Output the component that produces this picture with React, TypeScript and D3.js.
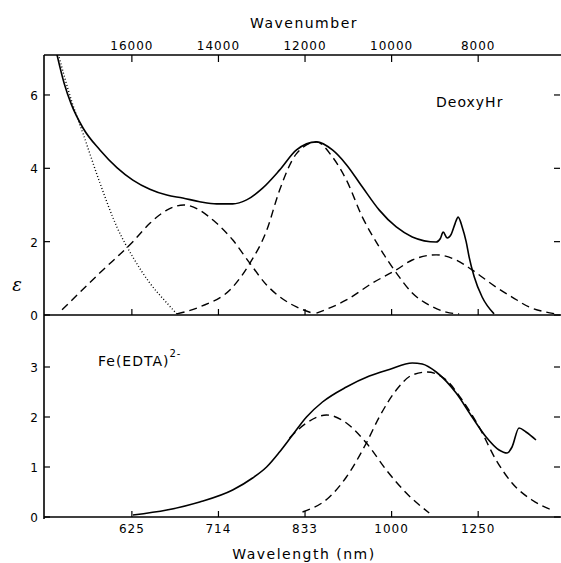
import * as d3 from "d3";

// wavenumber (cm-1) ticks, the matching wavelength labels (nm)
const wnTicks = [16000, 14000, 12000, 10000, 8000];
const nmLabels = ["625", "714", "833", "1000", "1250"];
const topYTicks = [0, 2, 4, 6];
const botYTicks = [0, 1, 2, 3];

// DeoxyHr: [wavenumber, epsilon]
const deoxyObserved: [number, number][] = [
  [17760, 7.25], [17560, 6.3], [17400, 5.75], [17129, 5.1], [16738, 4.5],
  [16346, 4.02], [15977, 3.68], [15585, 3.43], [15193, 3.27], [14824, 3.19],
  [14433, 3.09], [14041, 3.03], [13672, 3.03], [13349, 3.14], [12980, 3.46],
  [12589, 3.95], [12197, 4.5], [11736, 4.72], [11367, 4.5], [11044, 4.1],
  [10675, 3.49], [10284, 2.86], [9892, 2.4], [9523, 2.13], [8970, 1.99],
  [8877, 2.08], [8808, 2.26], [8716, 2.1], [8624, 2.2], [8532, 2.5],
  [8463, 2.67], [8370, 2.4], [8278, 2.0], [8209, 1.58], [8094, 1.05],
  [7909, 0.49], [7633, 0.03],
];
const deoxyTail: [number, number][] = [
  [17720, 7.2], [17383, 5.8], [17129, 4.95], [16738, 3.6], [16346, 2.4],
  [15977, 1.58], [15585, 0.87], [15193, 0.33], [14963, 0.03],
];
const deoxyBandA: [number, number][] = [
  [17613, 0.14], [16738, 1.15], [15977, 2.0], [15585, 2.5], [15193, 2.86],
  [14801, 3.0], [14041, 2.5], [13672, 2.05], [13280, 1.42], [12888, 0.82],
  [12589, 0.5], [12358, 0.32], [12197, 0.22], [11828, 0.05],
];
const deoxyBandB: [number, number][] = [
  [14963, 0.03], [14433, 0.22], [13672, 0.76], [13280, 1.4], [12888, 2.3],
  [12589, 3.4], [12197, 4.4], [11736, 4.72], [11367, 4.31], [11044, 3.68],
  [10675, 2.67], [10284, 1.85], [9892, 1.15], [9523, 0.6], [9131, 0.27],
  [8739, 0.08], [8440, 0.03],
];
const deoxyBandC: [number, number][] = [
  [11736, 0.05], [11044, 0.41], [10445, 0.87], [9892, 1.23], [9523, 1.5],
  [8970, 1.64], [8509, 1.5], [8140, 1.23], [7587, 0.76], [7218, 0.49],
  [6826, 0.22], [6435, 0.08], [6204, 0.03],
];

// Fe(EDTA)2-
const feObserved: [number, number][] = [
  [15977, 0.04], [15193, 0.14], [14433, 0.3], [13672, 0.54], [13211, 0.78],
  [12888, 1.0], [12589, 1.3], [12289, 1.64], [11966, 2.0], [11597, 2.3],
  [11044, 2.6], [10514, 2.82], [10053, 2.95], [9523, 3.08], [9292, 3.06],
  [8970, 2.9], [8509, 2.48], [8140, 2.0], [7817, 1.6], [7518, 1.34],
  [7333, 1.28], [7218, 1.4], [7057, 1.78], [6895, 1.7], [6665, 1.54],
];
const feBandA: [number, number][] = [
  [12358, 1.58], [11966, 1.88], [11505, 2.04], [11044, 1.88], [10583, 1.48],
  [10122, 0.94], [9661, 0.48], [9131, 0.08],
];
const feBandB: [number, number][] = [
  [12058, 0.1], [11436, 0.4], [11044, 0.8], [10583, 1.48], [10284, 2.0],
  [9892, 2.54], [9523, 2.84], [9177, 2.9], [8739, 2.74], [8370, 2.34],
  [7979, 1.8], [7587, 1.14], [7218, 0.68], [6757, 0.34], [6296, 0.14],
];

const W = 561;
const H = 563;
const left = 44;
const right = 560;
const font = "'DejaVu Sans', sans-serif";

export default function App() {
  const x = d3.scaleLinear().domain([18030, 6110]).range([left, right]);
  const yTop = d3.scaleLinear().domain([0, 7.09]).range([315, 55]);
  const yBot = d3.scaleLinear().domain([0, 4.04]).range([517, 315]);

  const topLine = d3
    .line<[number, number]>()
    .x((d) => x(d[0]))
    .y((d) => yTop(d[1]))
    .curve(d3.curveMonotoneX);
  const botLine = d3
    .line<[number, number]>()
    .x((d) => x(d[0]))
    .y((d) => yBot(d[1]))
    .curve(d3.curveMonotoneX);

  const dash = "8,5";

  return (
    <svg
      width={W}
      height={H}
      style={{ position: "absolute", left: 0, top: 0, background: "#fff" }}
      fontFamily={font}
    >
      <defs>
        <clipPath id="topClip">
          <rect x={left} y={yTop(7.09)} width={right - left} height={yTop(0) - yTop(7.09)} />
        </clipPath>
      </defs>

      {/* frame */}
      <g stroke="#000" strokeWidth={1.6} fill="none">
        <line x1={left} x2={right + 1} y1={yTop(7.09)} y2={yTop(7.09)} />
        <line x1={left} x2={right + 1} y1={yTop(0)} y2={yTop(0)} />
        <line x1={left} x2={right + 1} y1={yBot(0)} y2={yBot(0)} />
        <line x1={left} x2={left} y1={yTop(7.09)} y2={yBot(0) + 2} />
      </g>

      {/* x ticks */}
      <g stroke="#000" strokeWidth={1.2}>
        {wnTicks.map((t) => (
          <g key={t}>
            <line x1={x(t)} x2={x(t)} y1={yTop(7.09)} y2={yTop(7.09) + 7} />
            <line x1={x(t)} x2={x(t)} y1={yTop(0)} y2={yTop(0) - 6} />
            <line x1={x(t)} x2={x(t)} y1={yBot(0)} y2={yBot(0) - 6} />
          </g>
        ))}
      </g>
      {wnTicks.map((t) => (
        <text key={t} x={x(t)} y={50} textAnchor="middle" fontSize={12} letterSpacing={1}>
          {t}
        </text>
      ))}
      {wnTicks.map((t, i) => (
        <text key={t} x={x(t)} y={533} textAnchor="middle" fontSize={12} letterSpacing={1}>
          {nmLabels[i]}
        </text>
      ))}

      {/* y ticks */}
      <g stroke="#000" strokeWidth={1.2}>
        {topYTicks.map((t) => (
          <g key={t}>
            <line x1={left} x2={left + 6} y1={yTop(t)} y2={yTop(t)} />
            <line x1={right} x2={right - 6} y1={yTop(t)} y2={yTop(t)} />
          </g>
        ))}
        {botYTicks.map((t) => (
          <g key={t}>
            <line x1={left} x2={left + 6} y1={yBot(t)} y2={yBot(t)} />
            <line x1={right} x2={right - 6} y1={yBot(t)} y2={yBot(t)} />
          </g>
        ))}
      </g>
      {topYTicks.map((t) => (
        <text key={t} x={38} y={yTop(t) + 5} textAnchor="end" fontSize={12}>
          {t}
        </text>
      ))}
      {botYTicks.map((t) => (
        <text key={t} x={38} y={yBot(t) + 5} textAnchor="end" fontSize={12}>
          {t}
        </text>
      ))}

      {/* titles */}
      <text x={304} y={28} textAnchor="middle" fontSize={14} letterSpacing={1.5}>
        Wavenumber
      </text>
      <text x={304} y={559} textAnchor="middle" fontSize={14} letterSpacing={1.5}>
        Wavelength (nm)
      </text>
      <text x={17} y={291} textAnchor="middle" fontSize={18} fontStyle="italic" fontFamily="'DejaVu Serif', serif">
        ε
      </text>
      <text x={436} y={107} fontSize={14} letterSpacing={1}>
        DeoxyHr
      </text>
      <text x={98} y={366} fontSize={14} letterSpacing={1}>
        Fe(EDTA)
        <tspan dy={-9} fontSize={10}>
          2-
        </tspan>
      </text>

      {/* DeoxyHr curves */}
      <g clipPath="url(#topClip)" fill="none" stroke="#000">
        <path d={topLine(deoxyObserved) ?? ""} strokeWidth={1.6} />
        <path d={topLine(deoxyTail) ?? ""} strokeWidth={1.4} strokeDasharray="1,2.2" />
        <path d={topLine(deoxyBandA) ?? ""} strokeWidth={1.4} strokeDasharray={dash} />
        <path d={topLine(deoxyBandB) ?? ""} strokeWidth={1.4} strokeDasharray={dash} />
        <path d={topLine(deoxyBandC) ?? ""} strokeWidth={1.4} strokeDasharray={dash} />
      </g>

      {/* Fe(EDTA) curves */}
      <g fill="none" stroke="#000">
        <path d={botLine(feObserved) ?? ""} strokeWidth={1.6} />
        <path d={botLine(feBandA) ?? ""} strokeWidth={1.4} strokeDasharray={dash} />
        <path d={botLine(feBandB) ?? ""} strokeWidth={1.4} strokeDasharray={dash} />
      </g>
    </svg>
  );
}
